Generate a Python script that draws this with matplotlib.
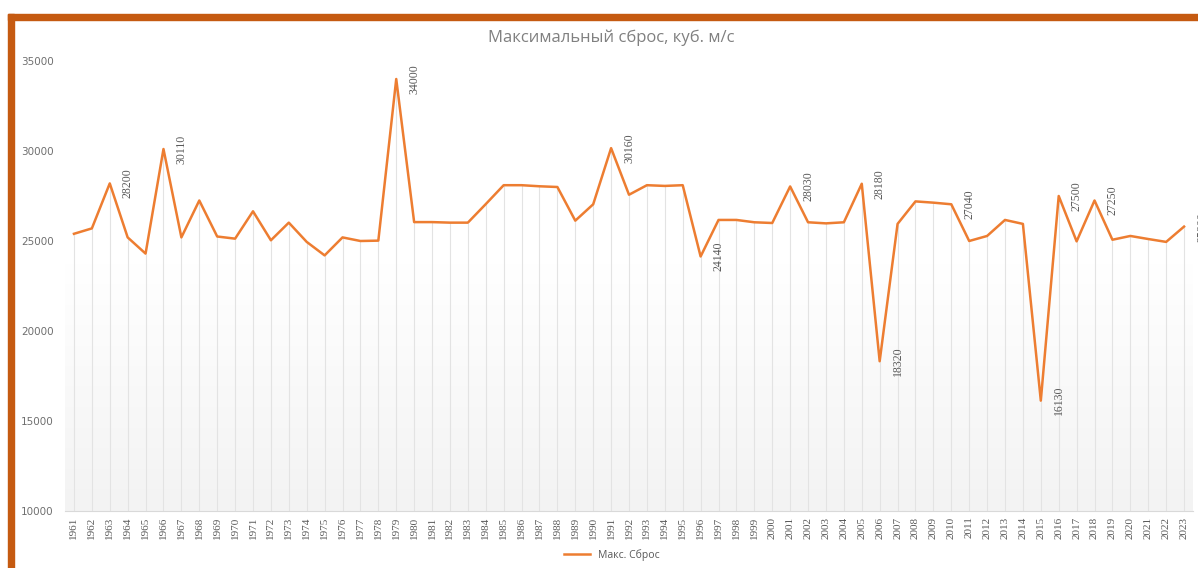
import matplotlib.pyplot as plt
import numpy as np
from matplotlib.patches import Rectangle
from matplotlib.colors import LinearSegmentedColormap

years = list(range(1961, 2024))
discharge = [
    25400, 25700, 28200, 25200, 24300, 30110, 25200, 27250, 25250, 25130,
    26650, 25040, 26020, 24950, 24200, 25200, 25000, 25020, 34000, 26050,
    26050, 26020, 26020, 27050, 28100, 28100, 28040, 28000, 26130, 27040,
    30160, 27570, 28100, 28060, 28100, 24140, 26170, 26170, 26040, 26000,
    28030, 26040, 25980, 26040, 28180, 18320, 25950, 27200, 27130, 27040,
    25000, 25280, 26170, 25950, 16130, 27500, 24980, 27250, 25070, 25280,
    25110, 24950, 25800,
]
# years whose values are written next to the point
labelled_years = [1963, 1966, 1979, 1991, 1996, 2001, 2005, 2006, 2010,
                  2015, 2016, 2018, 2023]

line_color = "#ED7D31"
text_gray = "#808080"

fig = plt.figure(figsize=(11.98, 5.68), dpi=100)
ax = fig.add_axes([65 / 1198, 1 - 511 / 568, 1128 / 1198, 450 / 568])

x = np.arange(len(years))

# soft gradient in the plot area, white at the top to light grey at the bottom
grad = np.linspace(0, 1, 256).reshape(-1, 1)
grad = np.clip((grad - 0.45) / 0.55, 0, 1)
ax.imshow(grad, extent=(-0.5, len(years) - 0.5, 10000, 35000), aspect="auto",
          cmap=LinearSegmentedColormap.from_list("bg", ["#ffffff", "#f3f3f3"]),
          origin="upper", zorder=0)

# drop lines from each point down to the axis
ax.vlines(x, 10000, discharge, color="#e3e3e3", linewidth=0.8, zorder=1)
ax.plot(x, discharge, color=line_color, linewidth=1.8, label="Макс. Сброс",
        zorder=3)

for yr in labelled_years:
    i = years.index(yr)
    ax.annotate(str(discharge[i]), (x[i], discharge[i]), xytext=(13, 0),
                textcoords="offset points", rotation=90, ha="center",
                va="center", fontsize=8.5, color="#595959",
                family="Liberation Serif", annotation_clip=False)

ax.set_xlim(-0.5, len(years) - 0.5)
ax.set_ylim(10000, 35000)
ax.set_yticks(range(10000, 35001, 5000))
ax.set_xticks(x)
ax.set_xticklabels([str(y) for y in years], rotation=90, fontsize=8,
                   family="Liberation Serif", color="#595959")
for lab in ax.get_yticklabels():
    lab.set_fontsize(7.5)
    lab.set_color("#6f6f6f")
ax.tick_params(axis="both", length=0, pad=4)
ax.tick_params(axis="y", pad=8)
for side in ["top", "right", "left"]:
    ax.spines[side].set_visible(False)
ax.spines["bottom"].set_color("#d9d9d9")

fig.text(611 / 1198, 1 - 38 / 568, "Максимальный сброс, куб. м/с", ha="center",
         va="center", fontsize=12, color=text_gray, family="Open Sans")

fig.legend(loc="center", bbox_to_anchor=(612 / 1198, 1 - 555 / 568),
           frameon=False, prop={"size": 7.5, "family": "Open Sans"},
           labelcolor="#595959", handlelength=2.5)

# orange frame on the top and left edges
fig.patches.append(Rectangle((8 / 1198, 1 - 20 / 568), 1, 6 / 568,
                             transform=fig.transFigure, color="#C55A11",
                             zorder=10))
fig.patches.append(Rectangle((8 / 1198, 0), 6 / 1198, 1 - 14 / 568,
                             transform=fig.transFigure, color="#C55A11",
                             zorder=10))

fig.savefig("out.png", dpi=100)
